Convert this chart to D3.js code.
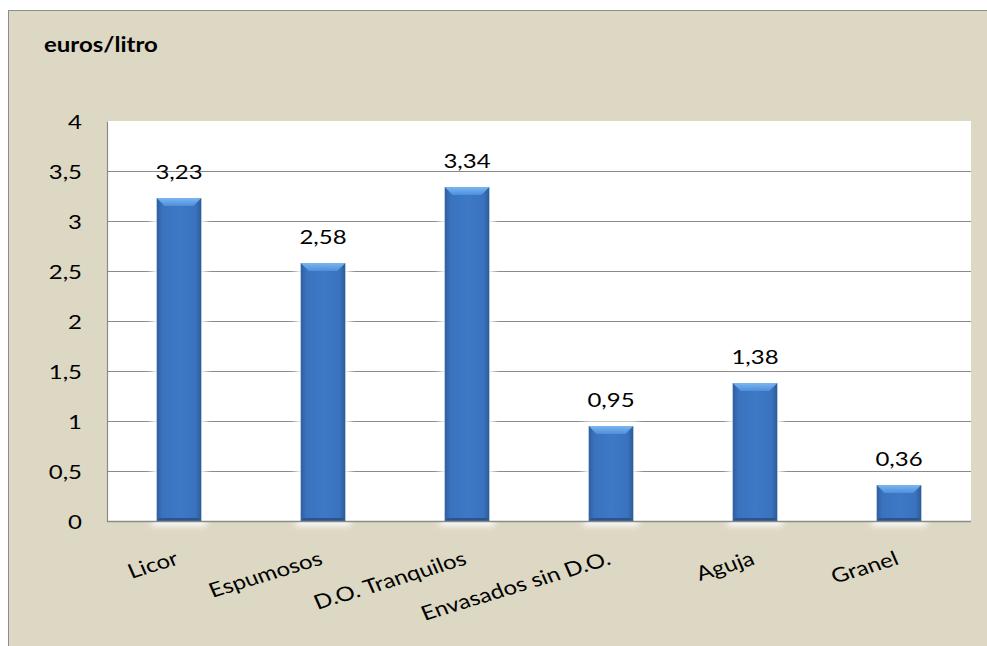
<!DOCTYPE html>
<html>
<head>
<meta charset="utf-8">
<script src="https://cdn.jsdelivr.net/npm/d3@7"></script>
<style>
  html, body { margin: 0; padding: 0; background: #fff; }
  svg { display: block; }
  text { font-family: Lato, "Open Sans", sans-serif; fill: #000; }
</style>
</head>
<body>
<script>
// Precio medio por categoría de vino
const categories = ["Licor", "Espumosos", "D.O. Tranquilos", "Envasados sin D.O.", "Aguja", "Granel"];
const values = [3.23, 2.58, 3.34, 0.95, 1.38, 0.36];
const yTicks = [0, 0.5, 1, 1.5, 2, 2.5, 3, 3.5, 4];
const unitLabel = "euros/litro";

const W = 987, H = 646;
const plot = { left: 107, top: 121, right: 971, bottom: 521 };
const sx = 1.2;          // horizontal stretch applied to all text
const fs = 20;           // base font size
const fmt = v => d3.format(".2f")(v).replace(".", ",");
const fmtTick = v => String(v).replace(".", ",");

const svg = d3.select("body").append("svg").attr("width", W).attr("height", H);

// Panel background
svg.append("rect").attr("x", 0).attr("y", 0).attr("width", W).attr("height", H).attr("fill", "#fff");
svg.append("rect").attr("x", 8.5).attr("y", 10.5).attr("width", W + 20).attr("height", H + 20)
  .attr("fill", "#DDD8C3").attr("stroke", "#8c8c8c").attr("stroke-width", 1);

const defs = svg.append("defs");
const grad = defs.append("linearGradient").attr("id", "barGrad").attr("x1", "0").attr("x2", "1").attr("y1", "0").attr("y2", "0");
grad.append("stop").attr("offset", "0%").attr("stop-color", "#2D5E9E");
grad.append("stop").attr("offset", "12%").attr("stop-color", "#3A72BD");
grad.append("stop").attr("offset", "50%").attr("stop-color", "#3D79C6");
grad.append("stop").attr("offset", "88%").attr("stop-color", "#3A72BD");
grad.append("stop").attr("offset", "100%").attr("stop-color", "#2B5A98");
const topGrad = defs.append("linearGradient").attr("id", "topGrad").attr("x1", "0").attr("x2", "0").attr("y1", "0").attr("y2", "1");
topGrad.append("stop").attr("offset", "0%").attr("stop-color", "#7AB6F0");
topGrad.append("stop").attr("offset", "100%").attr("stop-color", "#4E8FDA");
const glow = defs.append("filter").attr("id", "glow").attr("x", "-50%").attr("y", "-50%").attr("width", "200%").attr("height", "200%");
glow.append("feGaussianBlur").attr("stdDeviation", 3);

const x = d3.scaleBand().domain(categories).range([plot.left, plot.right]).paddingInner(0.69).paddingOuter(0.345);
const y = d3.scaleLinear().domain([0, 4]).range([plot.bottom, plot.top]);

// Plot area
svg.append("rect").attr("x", plot.left).attr("y", plot.top)
  .attr("width", plot.right - plot.left).attr("height", plot.bottom - plot.top).attr("fill", "#fff");

// Gridlines
svg.append("g").selectAll("line").data(yTicks.filter(t => t > 0 && t < 4)).join("line")
  .attr("x1", plot.left).attr("x2", plot.right)
  .attr("y1", d => Math.round(y(d)) + 0.5).attr("y2", d => Math.round(y(d)) + 0.5)
  .attr("stroke", "#8a8a8a").attr("stroke-width", 1.2);

// Y axis
const yAxis = svg.append("g").attr("transform", `translate(${plot.left},0)`)
  .call(d3.axisLeft(y).tickValues(yTicks).tickFormat(fmtTick).tickSize(0));
yAxis.select(".domain").attr("stroke", "#8a8a8a").attr("stroke-width", 1.2);
yAxis.selectAll(".tick text")
  .attr("x", 0).attr("y", 0).attr("dy", "0.36em")
  .attr("transform", `translate(-25,0) scale(${sx},1)`)
  .style("font-size", fs + "px");

// Bars
const bars = svg.append("g").selectAll("g").data(categories).join("g");
bars.append("rect")
  .attr("x", d => x(d) - 5).attr("y", (d, i) => y(values[i]) - 5)
  .attr("width", x.bandwidth() + 10).attr("height", (d, i) => y(0) - y(values[i]) + 10)
  .attr("fill", "#ffffff").attr("opacity", 0.9).attr("filter", "url(#glow)");
bars.append("rect")
  .attr("x", d => x(d)).attr("y", (d, i) => y(values[i]))
  .attr("width", x.bandwidth()).attr("height", (d, i) => y(0) - y(values[i]))
  .attr("fill", "url(#barGrad)");
// Top bevel
bars.append("path")
  .attr("d", (d, i) => {
    const x0 = x(d), x1 = x(d) + x.bandwidth(), yt = y(values[i]), b = 8;
    return `M${x0},${yt}L${x1},${yt}L${x1 - b},${yt + b}L${x0 + b},${yt + b}Z`;
  })
  .attr("fill", "url(#topGrad)");
// Bottom bevel
bars.append("path")
  .attr("d", (d) => {
    const x0 = x(d), x1 = x(d) + x.bandwidth(), yb = y(0), b = 3;
    return `M${x0},${yb}L${x1},${yb}L${x1 - b},${yb - b}L${x0 + b},${yb - b}Z`;
  })
  .attr("fill", "#2A5390");

// X axis line
svg.append("line").attr("x1", plot.left).attr("x2", plot.right)
  .attr("y1", plot.bottom + 0.5).attr("y2", plot.bottom + 0.5)
  .attr("stroke", "#8a8a8a").attr("stroke-width", 1.5);

// Value labels
svg.append("g").selectAll("text").data(categories).join("text")
  .attr("transform", (d, i) => `translate(${x(d) + x.bandwidth() / 2},${y(values[i]) - 19}) scale(${sx},1)`)
  .attr("text-anchor", "middle")
  .style("font-size", fs + "px")
  .text((d, i) => fmt(values[i]));

// Category labels
svg.append("g").selectAll("text").data(categories).join("text")
  .attr("transform", d => `translate(${x(d) + x.bandwidth() / 2 + 1},${plot.bottom + 43}) scale(${sx},1) rotate(-20)`)
  .attr("text-anchor", "end")
  .style("font-size", fs + "px")
  .text(d => d);

// Unit title
svg.append("text")
  .attr("transform", `translate(44,52) scale(${sx},1)`)
  .style("font-size", fs + "px").style("font-weight", "bold")
  .text(unitLabel);
</script>
</body>
</html>
